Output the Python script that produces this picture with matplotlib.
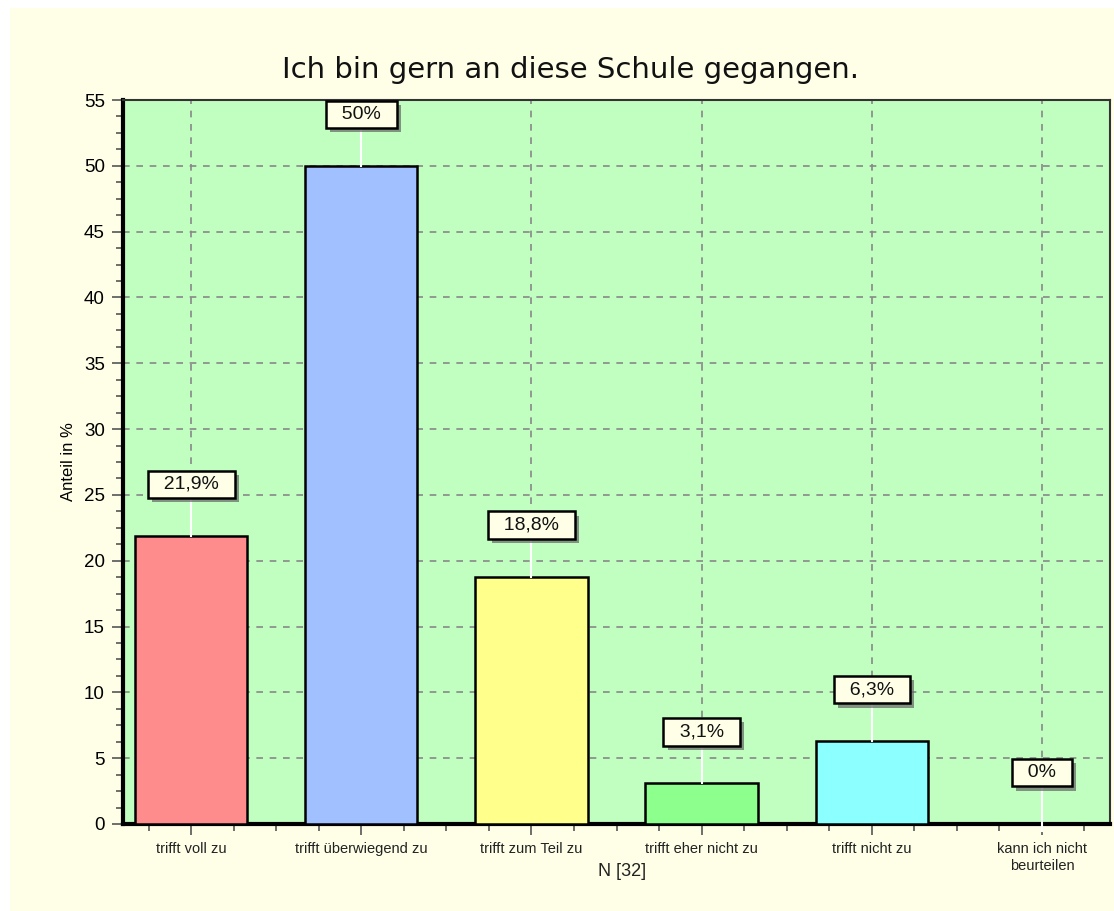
import matplotlib.pyplot as plt
import matplotlib.patheffects as pe
from matplotlib.patches import Rectangle
from matplotlib.ticker import MultipleLocator, FixedLocator

categories = ["trifft voll zu", "trifft überwiegend zu", "trifft zum Teil zu",
              "trifft eher nicht zu", "trifft nicht zu", "kann ich nicht\nbeurteilen"]
values = [21.9, 50.0, 18.8, 3.1, 6.3, 0.0]
value_labels = ["21,9%", "50%", "18,8%", "3,1%", "6,3%", "0%"]
colors = ["#FF8C8C", "#A0C0FF", "#FFFF8C", "#8CFF8C", "#8CFFFF", "#FFFFFF"]

title = "Ich bin gern an diese Schule gegangen."
ylabel = "Anteil in %"
xlabel = "N [32]"

W, H = 1114, 911
fig = plt.figure(figsize=(W / 100, H / 100), dpi=100, facecolor="white")
fig.patches.append(Rectangle((10 / W, 0), 1 - 10 / W, 1 - 8 / H, transform=fig.transFigure,
                             facecolor="#FFFFE8", edgecolor="none", zorder=-5))

ax = fig.add_axes([123 / W, 1 - 824 / H, (1110 - 123) / W, (824 - 100) / H])
ax.set_facecolor("#C0FFC0")

x = list(range(len(categories)))
ax.bar(x, values, width=0.66, color=colors, edgecolor="black", linewidth=1.8, zorder=3)

ax.set_xlim(-0.4, 5.4)
ax.set_ylim(0, 55)

ax.yaxis.set_major_locator(MultipleLocator(5))
ax.yaxis.set_minor_locator(MultipleLocator(1.25))
ax.set_xticks(x)
ax.set_xticklabels(categories, family="Liberation Sans", fontsize=10.5, color="#222222",
                   linespacing=1.3)
ax.xaxis.set_minor_locator(FixedLocator([i * 0.25 - 0.5 for i in range(25) if i % 4 != 2]))
for lab in ax.get_yticklabels():
    lab.set_family("Liberation Sans")
    lab.set_fontsize(13.5)
ax.tick_params(axis="both", which="major", length=8, width=1.2, color="#555555", direction="out")
ax.tick_params(axis="both", which="minor", length=5, width=1.2, color="#555555", direction="out")
ax.tick_params(axis="x", pad=5)
ax.tick_params(axis="y", pad=5)

ax.grid(True, which="major", linestyle=(0, (4, 4)), color="#888888", linewidth=1.2, zorder=1)
ax.set_axisbelow(True)

for side in ["left", "bottom"]:
    ax.spines[side].set_linewidth(3)
    ax.spines[side].set_color("black")
for side in ["top", "right"]:
    ax.spines[side].set_linewidth(1.5)
    ax.spines[side].set_color("#333333")

for xi, v, lab in zip(x, values, value_labels):
    ly = v + 3.9
    y0 = v if v > 0 else -0.5
    ax.plot([xi, xi], [y0, ly], color="white", linewidth=1.5, zorder=4, clip_on=False)
    t = ax.text(xi, ly, "  " + lab + "  ", ha="center", va="center", family="Liberation Sans",
                fontsize=14, color="#111111", zorder=6,
                bbox=dict(boxstyle="square,pad=0.27", facecolor="#FFFFE8",
                          edgecolor="black", linewidth=1.8))
    t.get_bbox_patch().set_path_effects([
        pe.SimplePatchShadow(offset=(3, -3), shadow_rgbFace="#666666", alpha=0.7),
        pe.Normal()])

ax.set_ylabel(ylabel, family="Liberation Sans", fontsize=12, labelpad=6)
fig.text(622 / W, 1 - 872 / H, xlabel, ha="center", va="center",
         family="Liberation Sans", fontsize=13, color="#222222")
fig.text(571 / W, 1 - 70 / H, title, ha="center", va="center",
         family="DejaVu Sans", fontsize=21, color="#111111")

fig.savefig("out.png", dpi=100, facecolor=fig.get_facecolor())
